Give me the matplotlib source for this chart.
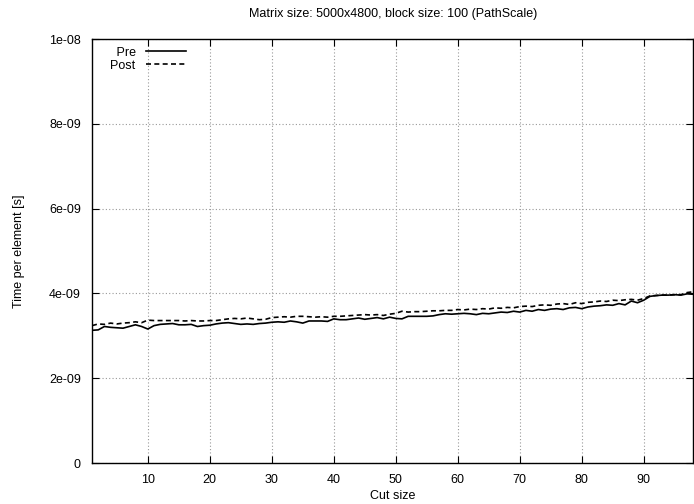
import matplotlib
matplotlib.use("Agg")
import matplotlib.pyplot as plt
from matplotlib.ticker import FuncFormatter
import numpy as np

plt.rcParams['font.family'] = ['Liberation Sans', 'DejaVu Sans']

# cut size 1..98
cut_size = list(range(1, 99))

# time per element, units of 1e-9 s
pre = [3.13, 3.14, 3.22, 3.20, 3.19, 3.18, 3.22, 3.26, 3.22, 3.16,
       3.24, 3.27, 3.28, 3.29, 3.26, 3.26, 3.27, 3.22, 3.24, 3.25,
       3.28, 3.30, 3.31, 3.29, 3.27, 3.28, 3.27, 3.29, 3.30, 3.32,
       3.33, 3.32, 3.35, 3.33, 3.30, 3.35, 3.35, 3.35, 3.34, 3.40,
       3.38, 3.38, 3.40, 3.42, 3.39, 3.41, 3.43, 3.40, 3.44, 3.41,
       3.40, 3.46, 3.46, 3.46, 3.46, 3.47, 3.50, 3.52, 3.51, 3.52,
       3.53, 3.52, 3.50, 3.53, 3.52, 3.54, 3.56, 3.55, 3.58, 3.56,
       3.60, 3.58, 3.62, 3.60, 3.63, 3.64, 3.62, 3.66, 3.67, 3.64,
       3.68, 3.70, 3.71, 3.73, 3.72, 3.76, 3.73, 3.82, 3.78, 3.84,
       3.93, 3.95, 3.96, 3.96, 3.97, 3.96, 3.99, 3.98]

post = [3.24, 3.28, 3.27, 3.30, 3.28, 3.30, 3.31, 3.33, 3.31, 3.37,
        3.36, 3.36, 3.36, 3.36, 3.36, 3.35, 3.36, 3.35, 3.35, 3.36,
        3.36, 3.38, 3.40, 3.41, 3.40, 3.42, 3.40, 3.38, 3.39, 3.43,
        3.44, 3.45, 3.44, 3.46, 3.46, 3.45, 3.44, 3.45, 3.44, 3.46,
        3.46, 3.47, 3.48, 3.49, 3.50, 3.49, 3.50, 3.48, 3.51, 3.53,
        3.58, 3.56, 3.57, 3.57, 3.58, 3.59, 3.59, 3.60, 3.60, 3.62,
        3.61, 3.63, 3.62, 3.64, 3.63, 3.66, 3.65, 3.67, 3.66, 3.69,
        3.70, 3.69, 3.72, 3.73, 3.72, 3.75, 3.76, 3.74, 3.78, 3.76,
        3.79, 3.80, 3.82, 3.81, 3.84, 3.83, 3.85, 3.86, 3.84, 3.88,
        3.94, 3.95, 3.96, 3.96, 3.97, 3.97, 4.02, 4.04]

x = np.array(cut_size)
y_pre = np.array(pre) * 1e-9
y_post = np.array(post) * 1e-9

fig = plt.figure(figsize=(6.94, 5.04), dpi=100)
ax = fig.add_axes([0.1326, 0.0813, 0.8664, 0.8413])

ax.plot(x, y_pre, color='black', lw=1.2, label='Pre')
ax.plot(x, y_post, color='black', lw=1.2, ls=(0, (3, 2)), label='Post')

ax.set_xlim(1, 98)
ax.set_ylim(0, 1e-8)
ax.set_xticks(range(10, 100, 10))
ax.set_yticks(np.arange(0, 1.01e-8, 2e-9))
ax.yaxis.set_major_formatter(FuncFormatter(lambda v, p: '%g' % v))

ax.grid(True, color='#999999', ls=(0, (1, 2)), lw=0.8)
ax.tick_params(direction='in', top=True, right=True, length=5, labelsize=9, pad=8)
for s in ax.spines.values():
    s.set_linewidth(1.0)

ax.set_title('Matrix size: 5000x4800, block size: 100 (PathScale)', fontsize=9, pad=16)
ax.set_xlabel('Cut size', fontsize=9, labelpad=3)
ax.set_ylabel('Time per element [s]', fontsize=9, labelpad=17)

leg = ax.legend(loc='upper left', frameon=False, markerfirst=False, fontsize=9,
                handlelength=3.2, borderaxespad=0.2, labelspacing=0.1,
                bbox_to_anchor=(0.018, 1.0))
# gnuplot right-aligns key labels
texts = leg.get_texts()
w = max(len(t.get_text()) for t in texts)
for t in texts:
    t.set_text(t.get_text().rjust(w))
    t.set_ha('left')

fig.savefig('out.png', dpi=100)
